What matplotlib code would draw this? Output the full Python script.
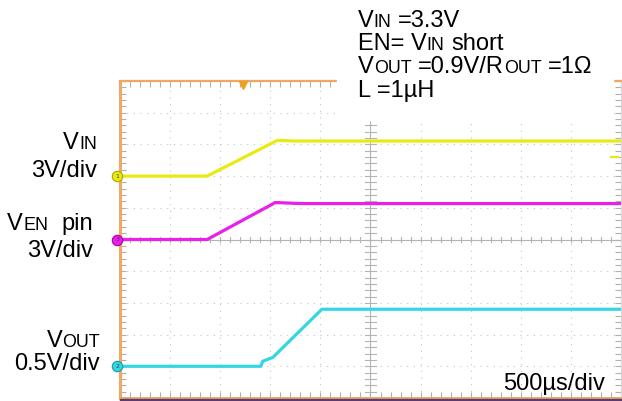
import matplotlib
matplotlib.use("Agg")
import matplotlib.pyplot as plt
from matplotlib.patches import Rectangle
import numpy as np

W, H = 622, 401
FONT = ['Liberation Sans', 'DejaVu Sans']

# scope traces, time in us (500us/div, 10 div on screen)
t_vin = [0, 870, 1570, 1750, 5000]
v_vin = [0, 0, 3.38, 3.32, 3.32]
t_ven = [0, 870, 1550, 1800, 5000]
v_ven = [0, 0, 3.5, 3.4, 3.4]
t_vout = [0, 1405, 1425, 1525, 2015, 5000]
v_vout = [0, 0, 0.08, 0.14, 0.9, 0.9]

ch_scale = [3.0, 3.0, 0.5]      # V/div
ch_offset = [2.0, 0.0, -4.0]    # div from centre
ch_color = ['#eaea12', '#ea1fea', '#35d6e4']
ch_edge = ['#a8a800', '#a800a8', '#1a9aa8']
ch_num = ['1', '3', '2']

fig = plt.figure(figsize=(W / 100, H / 100), dpi=100)
renderer = fig.canvas.get_renderer()

# screen area in pixels
L, R, T, B = 120, 621, 81, 398
ax = fig.add_axes([L / W, 1 - B / H, (R - L) / W, (B - T) / H])
ax.set_xlim(0, 5000)
ax.set_ylim(-5, 5)

grid_c = '#c4c4c4'
for i in range(1, 10):
    if i != 5:
        ax.axvline(i * 500, color=grid_c, lw=0.8, ls=(0, (1, 5)), zorder=1)
for j in range(-4, 5):
    if j != 0:
        ax.axhline(j, color=grid_c, lw=0.8, ls=(0, (1, 5)), zorder=1)

# centre cross with small ticks
cc = '#b4b4b4'
ax.axvline(2500, color=cc, lw=0.8, zorder=1)
ax.axhline(0, color=cc, lw=0.8, zorder=1)
for k in range(1, 50):
    ax.plot([k * 100, k * 100], [-0.09, 0.09], color=cc, lw=0.8, zorder=1)
for k in range(-24, 25):
    ax.plot([2450, 2550], [k * 0.2, k * 0.2], color=cc, lw=0.8, zorder=1)

# edge ticks
ax.set_xticks(np.arange(0, 5001, 500))
ax.set_xticks(np.arange(0, 5001, 100), minor=True)
ax.set_yticks(np.arange(-5, 5.01, 1))
ax.set_yticks(np.arange(-5, 5.01, 0.2), minor=True)
ax.tick_params(which='both', direction='in', top=True, right=True, bottom=True, left=True,
               labelbottom=False, labelleft=False, length=4, width=0.8, color='#b0b0b0')

for s in ['left', 'top', 'bottom']:
    ax.spines[s].set_color('#f2a85e')
ax.spines['left'].set_linewidth(2.2)
ax.spines['top'].set_linewidth(1.6)
ax.spines['bottom'].set_linewidth(1.4)
ax.spines['right'].set_color('#d8d8d8')
ax.spines['right'].set_linewidth(0.8)

traces = [(t_vin, v_vin), (t_ven, v_ven), (t_vout, v_vout)]
for (t, v), sc, off, c, ec, n in zip(traces, ch_scale, ch_offset, ch_color, ch_edge, ch_num):
    ax.plot(t, np.array(v) / sc + off, color=c, lw=2.3, zorder=3, solid_joinstyle='round')
    ax.plot([-25], [off], marker='o', ms=7.5, mfc=c, mec=ec, mew=0.8, clip_on=False, zorder=6)
    ax.text(-25, off, n, fontsize=4.5, color='#404040', ha='center', va='center',
            clip_on=False, zorder=7)

# trigger position and level markers
ax.plot([1228], [4.88], marker='v', ms=6, color='#f0a020', clip_on=False, zorder=6)
ax.plot([4900, 4970], [2.6, 2.6], color=ch_color[0], lw=1.6, zorder=3)

# bottom status strip
fig.add_artist(Rectangle((L / W, 0), (W - L) / W, 2.2 / H, transform=fig.transFigure,
                         color='#5b3c72', zorder=5))
# white box behind the test conditions
fig.add_artist(Rectangle((337 / W, 1 - 120 / H), (613 - 337) / W, 120 / H,
                         transform=fig.transFigure, color='white', zorder=5))


def seg_width(s, size):
    a = fig.text(0, 0, '|' + s + '|', fontsize=size, family=FONT)
    b = fig.text(0, 0, '||', fontsize=size, family=FONT)
    w = a.get_window_extent(renderer).width - b.get_window_extent(renderer).width
    a.remove()
    b.remove()
    return w


def label(x, y, parts, ha='left', size=17):
    # parts: (text, small caps flag); x, y in pixels, y is the baseline
    sizes = [size * 0.76 if sm else size for s, sm in parts]
    widths = [seg_width(s, z) for (s, sm), z in zip(parts, sizes)]
    x0 = x - sum(widths) if ha == 'right' else x
    for (s, sm), z, w in zip(parts, sizes, widths):
        lead = len(s) - len(s.lstrip(' '))
        dx = seg_width(' ' * lead, z) if lead else 0
        fig.text((x0 + dx) / W, 1 - y / H, s.lstrip(' '), fontsize=z, family=FONT,
                 ha='left', va='baseline', color='black', zorder=10)
        x0 += w


label(358, 27, [('V', 0), ('IN', 1), (' =3.3V', 0)])
label(358, 50, [('EN= V', 0), ('IN', 1), (' short', 0)])
label(358, 73, [('V', 0), ('OUT', 1), (' =0.9V/R', 0), ('OUT', 1), (' =1Ω', 0)])
label(358, 97, [('L =1µH', 0)])

label(97, 149, [('V', 0), ('IN', 1)], ha='right')
label(97, 177, [('3V/div', 0)], ha='right')
label(93, 230, [('V', 0), ('EN', 1), ('  pin', 0)], ha='right')
label(93, 257, [('3V/div', 0)], ha='right')
label(100, 347, [('V', 0), ('OUT', 1)], ha='right')
label(100, 370, [('0.5V/div', 0)], ha='right')

label(503, 390, [('500µs/div', 0)])

fig.savefig('out.png', dpi=100)
